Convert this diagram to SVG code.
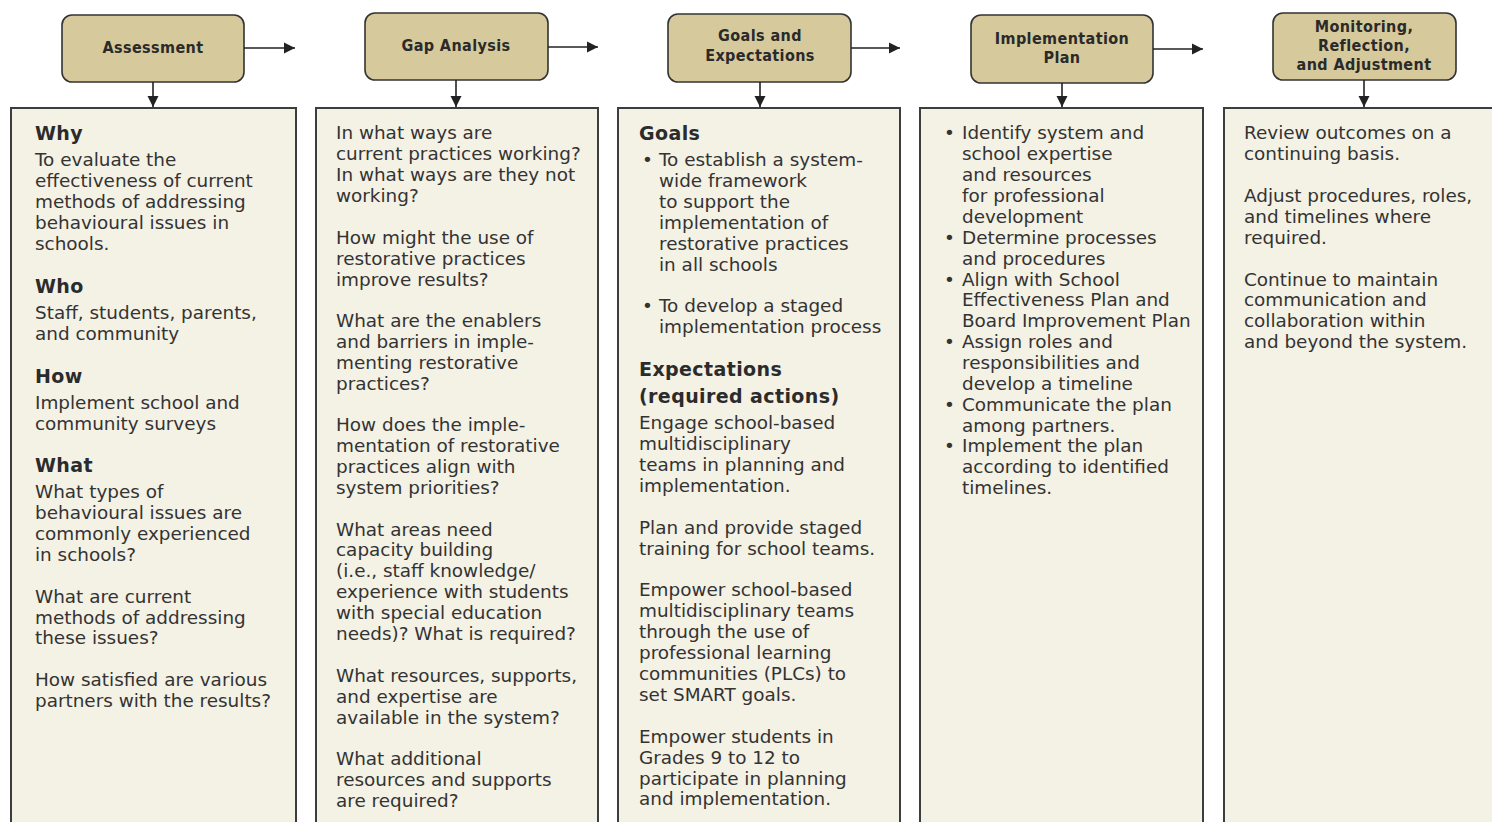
<svg xmlns="http://www.w3.org/2000/svg" width="1492" height="822" viewBox="0 0 1492 822">
<style>
.hdr{fill:#d6c99b;stroke:#333;stroke-width:1.6}
.col{fill:#f4f1e5;stroke:#3d3d3d;stroke-width:2}
.ht{font-family:"DejaVu Sans Condensed","Liberation Sans Narrow",sans-serif;font-weight:bold;font-size:16px;fill:#2a2a2a;text-anchor:middle;letter-spacing:0.4px}
.b{font-family:"DejaVu Sans",sans-serif;font-size:18.4px;fill:#333}
.h{font-family:"DejaVu Sans",sans-serif;font-size:19px;font-weight:bold;fill:#2b2b2b;letter-spacing:0.4px}
.con{stroke:#222;stroke-width:1.6;fill:none;marker-end:url(#ah)}
</style>
<defs>
<marker id="ah" viewBox="0 0 10 10" refX="10" refY="5" markerWidth="7" markerHeight="7" orient="auto" markerUnits="strokeWidth"><path d="M0,0 L10,5 L0,10 z" fill="#222"/></marker>
</defs>
<rect width="1492" height="822" fill="#fff"/>

<g id="col-assessment">
<rect class="col" x="11" y="108" width="285" height="730"/>
<text class="h" x="35" y="140">Why</text>
<text class="b" x="35" y="166">To evaluate the</text>
<text class="b" x="35" y="187">effectiveness of current</text>
<text class="b" x="35" y="208">methods of addressing</text>
<text class="b" x="35" y="229">behavioural issues in</text>
<text class="b" x="35" y="250">schools.</text>
<text class="h" x="35" y="293">Who</text>
<text class="b" x="35" y="319">Staff, students, parents,</text>
<text class="b" x="35" y="340">and community</text>
<text class="h" x="35" y="383">How</text>
<text class="b" x="35" y="409">Implement school and</text>
<text class="b" x="35" y="430">community surveys</text>
<text class="h" x="35" y="472">What</text>
<text class="b" x="35" y="498">What types of</text>
<text class="b" x="35" y="519">behavioural issues are</text>
<text class="b" x="35" y="540">commonly experienced</text>
<text class="b" x="35" y="561">in schools?</text>
<text class="b" x="35" y="603">What are current</text>
<text class="b" x="35" y="624">methods of addressing</text>
<text class="b" x="35" y="644">these issues?</text>
<text class="b" x="35" y="686">How satisfied are various</text>
<text class="b" x="35" y="707">partners with the results?</text>
</g>

<g id="col-gap">
<rect class="col" x="316" y="108" width="282" height="730"/>
<text class="b" x="336" y="139">In what ways are</text>
<text class="b" x="336" y="160">current practices working?</text>
<text class="b" x="336" y="181">In what ways are they not</text>
<text class="b" x="336" y="202">working?</text>
<text class="b" x="336" y="244">How might the use of</text>
<text class="b" x="336" y="265">restorative practices</text>
<text class="b" x="336" y="286">improve results?</text>
<text class="b" x="336" y="327">What are the enablers</text>
<text class="b" x="336" y="348">and barriers in imple-</text>
<text class="b" x="336" y="369">menting restorative</text>
<text class="b" x="336" y="390">practices?</text>
<text class="b" x="336" y="431">How does the imple-</text>
<text class="b" x="336" y="452">mentation of restorative</text>
<text class="b" x="336" y="473">practices align with</text>
<text class="b" x="336" y="494">system priorities?</text>
<text class="b" x="336" y="536">What areas need</text>
<text class="b" x="336" y="556">capacity building</text>
<text class="b" x="336" y="577">(i.e., staff knowledge/</text>
<text class="b" x="336" y="598">experience with students</text>
<text class="b" x="336" y="619">with special education</text>
<text class="b" x="336" y="640">needs)? What is required?</text>
<text class="b" x="336" y="682">What resources, supports,</text>
<text class="b" x="336" y="703">and expertise are</text>
<text class="b" x="336" y="724">available in the system?</text>
<text class="b" x="336" y="765">What additional</text>
<text class="b" x="336" y="786">resources and supports</text>
<text class="b" x="336" y="807">are required?</text>
</g>

<g id="col-goals">
<rect class="col" x="618" y="108" width="282" height="730"/>
<text class="h" x="639" y="140">Goals</text>
<text class="b" x="642" y="166">•</text>
<text class="b" x="659" y="166">To establish a system-</text>
<text class="b" x="659" y="187">wide framework</text>
<text class="b" x="659" y="208">to support the</text>
<text class="b" x="659" y="229">implementation of</text>
<text class="b" x="659" y="250">restorative practices</text>
<text class="b" x="659" y="271">in all schools</text>
<text class="b" x="642" y="312">•</text>
<text class="b" x="659" y="312">To develop a staged</text>
<text class="b" x="659" y="333">implementation process</text>
<text class="h" x="639" y="376">Expectations</text>
<text class="h" x="639" y="403">(required actions)</text>
<text class="b" x="639" y="429">Engage school-based</text>
<text class="b" x="639" y="450">multidisciplinary</text>
<text class="b" x="639" y="471">teams in planning and</text>
<text class="b" x="639" y="492">implementation.</text>
<text class="b" x="639" y="534">Plan and provide staged</text>
<text class="b" x="639" y="555">training for school teams.</text>
<text class="b" x="639" y="596">Empower school-based</text>
<text class="b" x="639" y="617">multidisciplinary teams</text>
<text class="b" x="639" y="638">through the use of</text>
<text class="b" x="639" y="659">professional learning</text>
<text class="b" x="639" y="680">communities (PLCs) to</text>
<text class="b" x="639" y="701">set SMART goals.</text>
<text class="b" x="639" y="743">Empower students in</text>
<text class="b" x="639" y="764">Grades 9 to 12 to</text>
<text class="b" x="639" y="785">participate in planning</text>
<text class="b" x="639" y="805">and implementation.</text>
</g>

<g id="col-implementation">
<rect class="col" x="920" y="108" width="283" height="730"/>
<text class="b" x="944" y="139">•</text>
<text class="b" x="962" y="139">Identify system and</text>
<text class="b" x="962" y="160">school expertise</text>
<text class="b" x="962" y="181">and resources</text>
<text class="b" x="962" y="202">for professional</text>
<text class="b" x="962" y="223">development</text>
<text class="b" x="944" y="244">•</text>
<text class="b" x="962" y="244">Determine processes</text>
<text class="b" x="962" y="265">and procedures</text>
<text class="b" x="944" y="286">•</text>
<text class="b" x="962" y="286">Align with School</text>
<text class="b" x="962" y="306">Effectiveness Plan and</text>
<text class="b" x="962" y="327">Board Improvement Plan</text>
<text class="b" x="944" y="348">•</text>
<text class="b" x="962" y="348">Assign roles and</text>
<text class="b" x="962" y="369">responsibilities and</text>
<text class="b" x="962" y="390">develop a timeline</text>
<text class="b" x="944" y="411">•</text>
<text class="b" x="962" y="411">Communicate the plan</text>
<text class="b" x="962" y="432">among partners.</text>
<text class="b" x="944" y="452">•</text>
<text class="b" x="962" y="452">Implement the plan</text>
<text class="b" x="962" y="473">according to identified</text>
<text class="b" x="962" y="494">timelines.</text>
</g>

<g id="col-monitoring">
<rect class="col" x="1224" y="108" width="300" height="730"/>
<text class="b" x="1244" y="139">Review outcomes on a</text>
<text class="b" x="1244" y="160">continuing basis.</text>
<text class="b" x="1244" y="202">Adjust procedures, roles,</text>
<text class="b" x="1244" y="223">and timelines where</text>
<text class="b" x="1244" y="244">required.</text>
<text class="b" x="1244" y="286">Continue to maintain</text>
<text class="b" x="1244" y="306">communication and</text>
<text class="b" x="1244" y="327">collaboration within</text>
<text class="b" x="1244" y="348">and beyond the system.</text>
</g>

<g id="node-assessment">
<rect class="hdr" x="62" y="15" width="182" height="67" rx="10"/>
<text class="ht" x="153" y="53">Assessment</text>
</g>
<g id="node-gap">
<rect class="hdr" x="365" y="13" width="183" height="67" rx="10"/>
<text class="ht" x="456" y="51">Gap Analysis</text>
</g>
<g id="node-goals">
<rect class="hdr" x="668" y="14" width="183" height="68" rx="10"/>
<text class="ht" x="760" y="41">Goals and</text>
<text class="ht" x="760" y="61">Expectations</text>
</g>
<g id="node-implementation">
<rect class="hdr" x="971" y="15" width="182" height="68" rx="10"/>
<text class="ht" x="1062" y="44">Implementation</text>
<text class="ht" x="1062" y="63">Plan</text>
</g>
<g id="node-monitoring">
<rect class="hdr" x="1273" y="13" width="183" height="67" rx="10"/>
<text class="ht" x="1364" y="32">Monitoring,</text>
<text class="ht" x="1364" y="51">Reflection,</text>
<text class="ht" x="1364" y="70">and Adjustment</text>
</g>

<g id="connectors">
<line class="con" x1="244" y1="48" x2="295" y2="48"/>
<line class="con" x1="548" y1="47" x2="598" y2="47"/>
<line class="con" x1="851" y1="48" x2="900" y2="48"/>
<line class="con" x1="1153" y1="49" x2="1203" y2="49"/>
<line class="con" x1="153" y1="82" x2="153" y2="107"/>
<line class="con" x1="456" y1="80" x2="456" y2="107"/>
<line class="con" x1="760" y1="82" x2="760" y2="107"/>
<line class="con" x1="1062" y1="83" x2="1062" y2="107"/>
<line class="con" x1="1364" y1="80" x2="1364" y2="107"/>
</g>
</svg>
